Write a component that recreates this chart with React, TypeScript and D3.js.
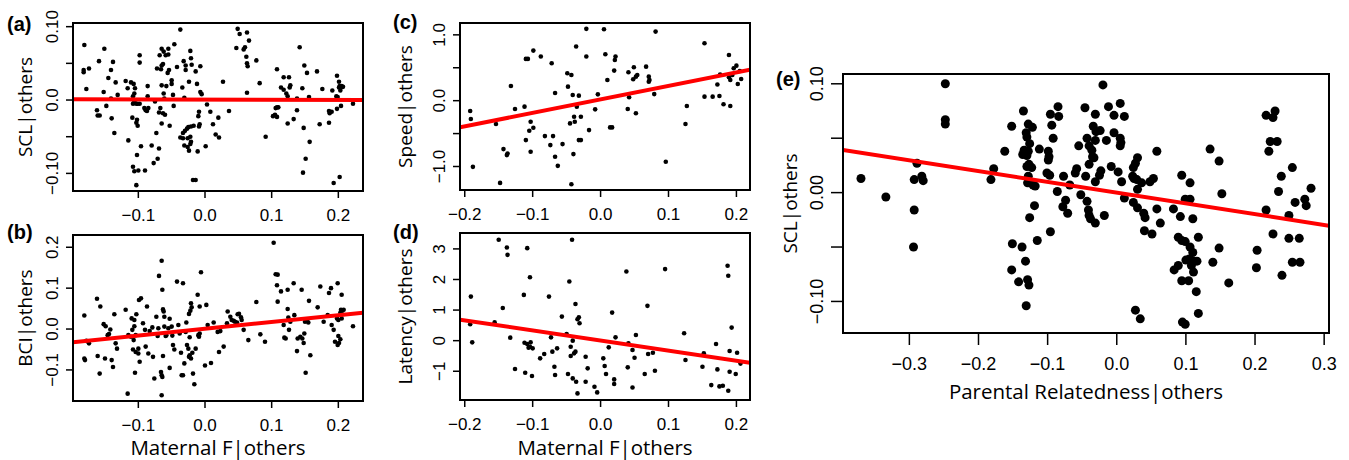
import React from "react";
import * as d3 from "d3";

// (a) SCL|others vs Maternal F|others
const pointsA = [
  [-0.181, 0.075], [-0.182, 0.041], [-0.182, 0.038], [-0.174, 0.043], [-0.178, 0.015], [-0.159, 0.053],
  [-0.162, -0.014], [-0.161, -0.021], [-0.158, -0.021], [-0.151, 0.07], [-0.152, 0.011], [-0.148, -0.008],
  [-0.145, 0.03], [-0.141, 0.041], [-0.138, 0.052], [-0.141, 0.002], [-0.14, -0.025], [-0.136, -0.045],
  [-0.134, 0.024], [-0.131, 0.007], [-0.119, 0.026], [-0.116, 0.016], [-0.115, -0.055], [-0.111, 0.024],
  [-0.107, 0.022], [-0.105, 0.016], [-0.106, 0.009], [-0.108, 0.005], [-0.107, 0.0], [-0.105, -0.004],
  [-0.108, -0.005], [-0.103, -0.005], [-0.101, -0.005], [-0.098, -0.005], [-0.109, -0.024], [-0.102, -0.027],
  [-0.101, -0.035], [-0.103, -0.031], [-0.098, 0.061], [-0.098, 0.051], [-0.102, -0.075], [-0.096, -0.063],
  [-0.108, -0.091], [-0.106, -0.097], [-0.1, -0.096], [-0.103, -0.116], [-0.09, -0.096], [-0.086, 0.019],
  [-0.086, 0.005], [-0.091, -0.011], [-0.089, -0.014], [-0.087, -0.015], [-0.085, -0.011], [-0.08, -0.062],
  [-0.077, -0.086], [-0.075, -0.002], [-0.073, -0.045], [-0.071, -0.08], [-0.069, -0.066], [-0.072, 0.043],
  [-0.066, 0.042], [-0.069, -0.017], [-0.067, -0.011], [-0.068, 0.061], [-0.065, 0.07], [-0.065, 0.047],
  [-0.063, 0.049], [-0.065, 0.02], [-0.062, 0.009], [-0.061, 0.002], [-0.063, -0.018], [-0.06, -0.02],
  [-0.065, -0.032], [-0.062, 0.066], [-0.059, 0.061], [-0.055, 0.07], [-0.054, 0.041], [-0.056, 0.037],
  [-0.058, 0.019], [-0.053, -0.035], [-0.05, 0.027], [-0.05, 0.022], [-0.055, 0.062], [-0.048, 0.007],
  [-0.047, -0.008], [-0.046, 0.076], [-0.042, 0.045], [-0.037, 0.096], [-0.037, -0.051], [-0.033, -0.052],
  [-0.032, 0.053], [-0.029, 0.047], [-0.029, 0.041], [-0.031, 0.003], [-0.034, 0.017], [-0.031, -0.062],
  [-0.026, -0.064], [-0.033, -0.045], [-0.03, -0.042], [-0.027, -0.039], [-0.025, -0.037], [-0.021, -0.036],
  [-0.017, -0.035], [-0.026, -0.052], [-0.022, -0.05], [-0.021, -0.057], [-0.022, -0.06], [-0.024, -0.069],
  [-0.024, 0.025], [-0.022, 0.067], [-0.021, 0.057], [-0.02, 0.048], [-0.018, -0.109], [-0.014, -0.109],
  [-0.014, 0.039], [-0.012, 0.022], [-0.011, -0.07], [-0.01, -0.022], [-0.008, -0.033], [-0.009, -0.036],
  [-0.007, 0.046], [-0.007, 0.011], [-0.009, -0.016], [-0.005, 0.008], [0.001, -0.063], [0.003, -0.006],
  [0.008, -0.016], [0.012, -0.033], [0.016, -0.047], [0.021, -0.051], [0.02, -0.024], [0.027, 0.025],
  [0.036, -0.015], [0.047, 0.071], [0.049, 0.097], [0.052, 0.09], [0.058, 0.069], [0.06, 0.072],
  [0.063, 0.092], [0.066, 0.081], [0.062, 0.059], [0.063, 0.05], [0.064, 0.046], [0.063, 0.01],
  [0.077, 0.054], [0.082, 0.023], [0.091, -0.05], [0.102, -0.022], [0.105, -0.02], [0.108, -0.023],
  [0.108, 0.042], [0.108, -0.01], [0.106, -0.011], [0.11, -0.01], [0.114, 0.017], [0.118, 0.031],
  [0.118, 0.014], [0.122, 0.009], [0.124, 0.005], [0.127, 0.017], [0.128, 0.02], [0.126, 0.031],
  [0.124, -0.032], [0.133, -0.026], [0.138, 0.002], [0.138, -0.014], [0.142, 0.072], [0.146, 0.016],
  [0.148, -0.038], [0.149, 0.047], [0.153, 0.037], [0.147, -0.099], [0.151, -0.08], [0.156, 0.004],
  [0.157, -0.057], [0.168, 0.039], [0.172, -0.033], [0.176, 0.015], [0.186, -0.031], [0.187, -0.018],
  [0.19, -0.016], [0.186, -0.015], [0.191, 0.013], [0.193, -0.113], [0.198, 0.033], [0.197, 0.005],
  [0.199, 0.004], [0.198, -0.012], [0.201, 0.025], [0.202, 0.019], [0.201, 0.017], [0.204, 0.017],
  [0.205, 0.019], [0.207, 0.018], [0.203, 0.013], [0.204, -0.008], [0.202, -0.105], [0.222, -0.005],
];

// (b) BCI|others vs Maternal F|others
const pointsB = [
  [-0.181, 0.033], [-0.181, -0.072], [-0.18, -0.076], [-0.178, -0.029], [-0.174, -0.035], [-0.162, 0.074],
  [-0.157, 0.055], [-0.161, -0.066], [-0.158, -0.109], [-0.152, 0.012], [-0.149, 0.007], [-0.15, -0.072],
  [-0.146, -0.015], [-0.144, -0.012], [-0.142, -0.001], [-0.14, -0.076], [-0.138, -0.093], [-0.136, 0.036],
  [-0.134, -0.035], [-0.132, -0.048], [-0.119, 0.047], [-0.116, -0.158], [-0.115, -0.015], [-0.111, -0.019],
  [-0.11, 0.026], [-0.106, 0.022], [-0.103, 0.036], [-0.106, 0.007], [-0.109, -0.002], [-0.104, -0.015],
  [-0.107, -0.027], [-0.108, -0.05], [-0.104, -0.056], [-0.105, -0.107], [-0.1, -0.048], [-0.1, -0.06],
  [-0.099, 0.071], [-0.096, 0.075], [-0.098, -0.08], [-0.093, 0.014], [-0.09, -0.002], [-0.089, -0.043],
  [-0.087, 0.055], [-0.085, -0.06], [-0.083, -0.005], [-0.079, 0.004], [-0.078, -0.068], [-0.076, -0.121],
  [-0.073, 0.03], [-0.071, -0.017], [-0.07, 0.002], [-0.069, 0.13], [-0.066, -0.105], [-0.065, -0.113],
  [-0.064, -0.117], [-0.065, 0.167], [-0.064, 0.096], [-0.063, 0.048], [-0.062, 0.043], [-0.061, 0.03],
  [-0.063, -0.066], [-0.065, -0.162], [-0.061, 0.006], [-0.059, -0.017], [-0.058, -0.015], [-0.055, 0.002],
  [-0.053, 0.025], [-0.053, -0.095], [-0.05, 0.006], [-0.049, -0.016], [-0.048, -0.039], [-0.046, -0.05],
  [-0.042, 0.116], [-0.04, 0.01], [-0.038, -0.011], [-0.036, -0.058], [-0.035, -0.113], [-0.033, -0.113],
  [-0.033, 0.112], [-0.031, -0.084], [-0.029, -0.007], [-0.028, 0.016], [-0.027, -0.039], [-0.025, -0.048],
  [-0.023, -0.064], [-0.024, -0.068], [-0.021, -0.072], [-0.024, 0.037], [-0.022, 0.045], [-0.021, 0.063],
  [-0.02, 0.053], [-0.023, -0.02], [-0.018, -0.109], [-0.016, -0.135], [-0.019, -0.058], [-0.014, -0.048],
  [-0.011, 0.084], [-0.01, -0.015], [-0.009, -0.019], [-0.008, -0.011], [-0.008, 0.055], [-0.006, 0.139],
  [0.0, -0.089], [0.002, 0.059], [0.004, 0.01], [0.009, -0.083], [0.013, 0.016], [0.019, -0.007],
  [0.021, -0.056], [0.023, -0.005], [0.028, -0.043], [0.033, 0.014], [0.034, 0.043], [0.038, 0.03],
  [0.04, 0.022], [0.043, 0.02], [0.045, 0.018], [0.048, 0.016], [0.049, 0.036], [0.051, 0.037],
  [0.054, 0.029], [0.055, 0.022], [0.058, -0.002], [0.065, -0.027], [0.077, 0.066], [0.083, -0.013],
  [0.09, -0.031], [0.103, 0.211], [0.106, 0.134], [0.109, 0.133], [0.108, 0.107], [0.109, 0.067],
  [0.114, 0.092], [0.118, 0.01], [0.119, -0.021], [0.121, -0.023], [0.124, 0.096], [0.124, 0.049],
  [0.125, 0.028], [0.128, 0.018], [0.126, -0.002], [0.133, 0.112], [0.134, 0.034], [0.138, -0.054],
  [0.139, -0.023], [0.143, -0.019], [0.145, 0.096], [0.146, -0.023], [0.148, -0.034], [0.149, -0.011],
  [0.15, 0.018], [0.153, 0.02], [0.155, 0.016], [0.151, -0.107], [0.156, 0.069], [0.158, -0.064],
  [0.169, 0.053], [0.173, 0.104], [0.178, 0.018], [0.184, 0.034], [0.186, 0.088], [0.189, 0.1],
  [0.19, 0.01], [0.193, -0.002], [0.195, -0.031], [0.199, 0.112], [0.198, 0.026], [0.2, 0.022],
  [0.203, 0.04], [0.204, 0.047], [0.205, 0.026], [0.206, 0.045], [0.208, 0.047], [0.2, -0.017],
  [0.201, -0.034], [0.203, -0.025], [0.199, -0.039], [0.205, 0.084], [0.222, 0.007],
];

// (c) Speed|others vs Maternal F|others
const pointsC = [
  [-0.192, -0.157], [-0.191, -0.279], [-0.188, -1.005], [-0.154, -0.355], [-0.148, -1.249], [-0.143, -0.736],
  [-0.138, -0.827], [-0.137, -0.802], [-0.132, 0.223], [-0.126, -0.127], [-0.112, -0.091], [-0.11, -0.599],
  [-0.11, 0.635], [-0.107, 0.635], [-0.105, -0.457], [-0.103, -0.32], [-0.103, -0.777], [-0.099, -0.411],
  [-0.099, 0.761], [-0.088, 0.67], [-0.082, -0.538], [-0.074, -0.675], [-0.072, 0.569], [-0.07, -0.538],
  [-0.067, 0.117], [-0.067, -0.853], [-0.063, -0.99], [-0.056, -0.66], [-0.049, 0.416], [-0.048, 0.213],
  [-0.045, -0.345], [-0.043, 0.391], [-0.043, -1.269], [-0.041, 0.086], [-0.04, -0.812], [-0.039, -0.244],
  [-0.038, -0.32], [-0.036, 0.822], [-0.035, -0.091], [-0.032, 0.076], [-0.032, -0.599], [-0.029, -0.599],
  [-0.029, -0.244], [-0.021, 1.091], [-0.021, 0.67], [-0.017, -0.447], [-0.008, -0.132], [-0.004, 0.096],
  [0.005, 1.086], [0.007, 0.706], [0.01, 0.315], [0.014, -0.406], [0.017, -0.406], [0.02, 0.457],
  [0.021, 0.619], [0.022, 0.67], [0.041, 0.431], [0.04, -0.126], [0.042, 0.052], [0.049, 0.507],
  [0.048, 0.325], [0.052, 0.365], [0.054, 0.39], [0.052, -0.192], [0.067, 0.517], [0.071, 0.365],
  [0.072, 0.315], [0.071, 0.289], [0.079, 0.1], [0.081, 1.049], [0.096, -0.927], [0.125, -0.354],
  [0.127, -0.08], [0.153, 0.872], [0.153, 0.061], [0.165, 0.061], [0.175, 0.071], [0.172, 0.245],
  [0.176, 0.398], [0.181, -0.055], [0.189, 0.695], [0.191, -0.081], [0.189, 0.355], [0.191, 0.315],
  [0.194, 0.39], [0.196, 0.492], [0.2, 0.532], [0.202, 0.254], [0.205, 0.45], [0.207, 0.33],
];

// (d) Latency|others vs Maternal F|others
const pointsD = [
  [-0.191, 1.441], [-0.192, 0.535], [-0.189, -0.055], [-0.156, 0.6], [-0.15, 3.297], [-0.144, 1.07],
  [-0.138, 3.046], [-0.137, 2.806], [-0.133, 0.098], [-0.126, -0.928], [-0.113, 1.496], [-0.112, -0.066],
  [-0.108, -0.109], [-0.106, -0.229], [-0.103, -0.055], [-0.104, -0.197], [-0.1, -0.251], [-0.111, -1.048],
  [-0.108, 3.024], [-0.104, 2.074], [-0.101, -1.157], [-0.089, -0.579], [-0.083, -0.437], [-0.076, 1.441],
  [-0.073, 0.109], [-0.071, -0.36], [-0.068, -0.852], [-0.067, -1.124], [-0.064, -0.251], [-0.057, 0.786],
  [-0.05, 0.218], [-0.048, -1.092], [-0.046, 1.932], [-0.044, -0.197], [-0.044, -0.502], [-0.039, -0.415],
  [-0.037, -0.36], [-0.042, 3.297], [-0.041, 0.0], [-0.041, -1.234], [-0.037, 1.201], [-0.036, -1.343],
  [-0.034, 0.699], [-0.032, 0.764], [-0.031, 0.568], [-0.034, -1.725], [-0.022, -0.524], [-0.019, -0.906],
  [-0.022, -1.343], [-0.009, -1.507], [-0.005, -1.692], [0.004, -0.579], [0.006, -0.83], [0.008, -1.092],
  [0.012, -0.218], [0.017, 0.917], [0.02, -1.266], [0.02, -1.419], [0.022, 0.109], [0.038, 2.262],
  [0.041, -0.086], [0.04, -0.872], [0.047, -0.305], [0.05, -0.557], [0.047, -1.529], [0.052, 0.187],
  [0.065, -1.092], [0.069, 1.138], [0.07, -0.436], [0.077, -0.393], [0.08, -0.983], [0.095, 2.34],
  [0.123, 0.241], [0.125, -0.633], [0.15, -0.852], [0.152, -0.414], [0.163, -1.453], [0.17, -0.108],
  [0.172, -0.939], [0.175, -1.496], [0.18, -1.474], [0.187, 2.449], [0.188, 2.12], [0.188, -1.639],
  [0.19, -0.338], [0.193, 0.427], [0.201, -0.393], [0.19, -1.016], [0.199, -1.092], [0.206, -0.75],
];

// (e) SCL|others vs Parental Relatedness|others
const pointsE = [
  [-0.37, 0.013], [-0.334, -0.004], [-0.289, 0.027], [-0.293, 0.012], [-0.282, 0.015], [-0.28, 0.011],
  [-0.293, -0.016], [-0.294, -0.05], [-0.248, 0.1], [-0.248, 0.067], [-0.248, 0.063], [-0.182, 0.012],
  [-0.178, 0.022], [-0.162, 0.038], [-0.152, 0.061], [-0.151, -0.047], [-0.152, -0.071], [-0.142, -0.082],
  [-0.137, -0.05], [-0.135, 0.075], [-0.136, 0.035], [-0.134, 0.039], [-0.13, 0.034], [-0.128, 0.038],
  [-0.131, 0.055], [-0.13, 0.051], [-0.128, 0.063], [-0.122, 0.06], [-0.126, 0.045], [-0.127, 0.026],
  [-0.123, 0.023], [-0.13, 0.024], [-0.128, 0.015], [-0.126, 0.009], [-0.129, 0.009], [-0.121, 0.007],
  [-0.118, 0.006], [-0.119, -0.012], [-0.126, -0.023], [-0.132, -0.063], [-0.129, -0.08], [-0.127, -0.085],
  [-0.131, -0.104], [-0.115, -0.044], [-0.112, 0.04], [-0.099, 0.038], [-0.098, 0.033], [-0.099, 0.03],
  [-0.096, 0.072], [-0.094, 0.062], [-0.092, 0.05], [-0.085, 0.079], [-0.084, 0.07], [-0.101, 0.018],
  [-0.097, 0.016], [-0.096, -0.036], [-0.086, 0.001], [-0.077, 0.015], [-0.078, -0.013], [-0.074, -0.007],
  [-0.071, -0.019], [-0.068, 0.007], [-0.06, 0.018], [-0.058, 0.022], [-0.055, 0.043], [-0.052, -0.002],
  [-0.045, 0.015], [-0.043, -0.008], [-0.041, -0.016], [-0.04, -0.021], [-0.038, -0.024], [-0.031, -0.028],
  [-0.046, 0.078], [-0.043, 0.05], [-0.04, 0.043], [-0.036, 0.039], [-0.035, 0.033], [-0.033, 0.032],
  [-0.04, 0.026], [-0.034, 0.061], [-0.03, 0.056], [-0.031, 0.048], [-0.024, 0.057], [-0.031, 0.072],
  [-0.031, 0.01], [-0.025, 0.016], [-0.023, 0.02], [-0.02, 0.099], [-0.018, -0.021], [-0.015, 0.048],
  [-0.012, 0.079], [-0.004, 0.071], [0.005, 0.082], [0.011, 0.07], [-0.004, 0.055], [0.005, 0.05],
  [0.006, 0.046], [0.005, 0.043], [-0.008, 0.024], [0.002, 0.019], [0.007, 0.01], [0.011, -0.005],
  [0.024, 0.023], [0.027, 0.027], [0.03, 0.032], [0.023, 0.015], [0.025, 0.013], [0.029, 0.012],
  [0.03, 0.003], [0.024, -0.009], [0.03, -0.014], [0.039, -0.019], [0.041, -0.023], [0.04, -0.035],
  [0.051, -0.038], [0.036, 0.009], [0.048, 0.01], [0.053, 0.013], [0.058, 0.038], [0.058, -0.015],
  [0.063, -0.028], [0.027, -0.108], [0.034, -0.116], [0.082, -0.015], [0.092, -0.022], [0.094, 0.016],
  [0.106, 0.009], [0.099, -0.006], [0.106, -0.006], [0.11, -0.024], [0.089, -0.041], [0.094, -0.044],
  [0.099, -0.045], [0.106, -0.05], [0.11, -0.055], [0.118, -0.041], [0.083, -0.071], [0.089, -0.067],
  [0.1, -0.062], [0.105, -0.061], [0.111, -0.063], [0.116, -0.063], [0.108, -0.067], [0.111, -0.073],
  [0.094, -0.081], [0.104, -0.081], [0.115, -0.091], [0.118, -0.111], [0.095, -0.119], [0.099, -0.121],
  [0.135, 0.04], [0.148, 0.029], [0.152, -0.001], [0.148, -0.051], [0.139, -0.064], [0.162, -0.083],
  [0.202, -0.069], [0.203, -0.053], [0.216, -0.016], [0.216, 0.071], [0.226, 0.069], [0.229, 0.075],
  [0.22, 0.038], [0.222, 0.047], [0.232, 0.047], [0.226, -0.038], [0.234, 0.001], [0.238, 0.015],
  [0.239, -0.076], [0.249, -0.021], [0.254, 0.023], [0.249, -0.042], [0.264, -0.042], [0.254, -0.064],
  [0.265, -0.064], [0.258, -0.009], [0.272, -0.006], [0.274, -0.012], [0.281, 0.004],
];

// fitted lines: [intercept, slope]
const fitA = [0.0005, -0.002];
const fitB = [0.0005, 0.167];
const fitC = [0.02, 2.05];
const fitD = [0.005, -3.3];
const fitE = [0.0, -0.099];

const ticksMatF = [-0.1, 0.0, 0.1, 0.2];
const ticksMatFLabels = ["\u22120.1", "0.0", "0.1", "0.2"];
const ticksMatF2 = [-0.2, -0.1, 0.0, 0.1, 0.2];
const ticksMatF2Labels = ["\u22120.2", "\u22120.1", "0.0", "0.1", "0.2"];
const ticksRel = [-0.3, -0.2, -0.1, 0.0, 0.1, 0.2, 0.3];
const ticksRelLabels = ["\u22120.3", "\u22120.2", "\u22120.1", "0.0", "0.1", "0.2", "0.3"];

const ticksSCL = [-0.1, -0.05, 0, 0.05, 0.1];
const ticksSCLLabelsA = ["\u22120.10", "", "0.0", "", "0.10"];
const ticksSCLLabelsE = ["\u22120.10", "", "0.00", "", "0.10"];
const ticksBCI = [-0.1, 0, 0.1, 0.2];
const ticksBCILabels = ["\u22120.1", "0.0", "0.1", "0.2"];
const ticksSpeed = [-1, -0.5, 0, 0.5, 1];
const ticksSpeedLabels = ["\u22121.0", "", "0.0", "", "1.0"];
const ticksLat = [-1, 0, 1, 2, 3];
const ticksLatLabels = ["\u22121", "0", "1", "2", "3"];

const TICK_FONT = "'Liberation Sans', Arial, Helvetica, sans-serif";
const TITLE_FONT = "'Open Sans', sans-serif";

type PanelProps = {
  box: [number, number, number, number]; // left, right, top, bottom
  xDomain: [number, number];
  yDomain: [number, number];
  xTicks: number[];
  xTickLabels: string[];
  yTicks: number[];
  yTickLabels: string[];
  points: number[][];
  fit: number[];
  r: number;
  tag: string;
  tagPos: [number, number];
  ylab: string;
  ylabX: number;
  xlab?: string;
  xlabY?: number;
  tickLen: number;
  tickFont: number;
  titleFont: number;
  xlabFont?: number;
  tickGap: number;
  xLabGap: number;
};

function Panel(p: PanelProps) {
  const [l, rgt, t, b] = p.box;
  const x = d3.scaleLinear().domain(p.xDomain).range([l, rgt]);
  const y = d3.scaleLinear().domain(p.yDomain).range([b, t]);
  const clipId = "clip" + p.tag.replace(/\W/g, "");
  const line = d3.line<number>().x((v) => x(v)).y((v) => y(p.fit[0] + p.fit[1] * v));
  return (
    <g>
      <defs>
        <clipPath id={clipId}>
          <rect x={l} y={t} width={rgt - l} height={b - t} />
        </clipPath>
      </defs>
      <g clipPath={`url(#${clipId})`}>
        {p.points.map((d, i) => (
          <circle key={i} cx={x(d[0])} cy={y(d[1])} r={p.r} fill="#000" />
        ))}
        <path d={line(p.xDomain) || ""} stroke="#ff0000" strokeWidth={4} fill="none" />
      </g>
      <rect x={l} y={t} width={rgt - l} height={b - t} fill="none" stroke="#000" strokeWidth={2} />
      {p.xTicks.map((v, i) => (
        <g key={"x" + i}>
          <line x1={x(v)} x2={x(v)} y1={b} y2={b + p.tickLen} stroke="#000" strokeWidth={1.5} />
          <text x={x(v)} y={b + p.tickGap} textAnchor="middle" fontFamily={TICK_FONT} fontSize={p.tickFont}>
            {p.xTickLabels[i]}
          </text>
        </g>
      ))}
      {p.yTicks.map((v, i) => (
        <g key={"y" + i}>
          <line x1={l - p.tickLen} x2={l} y1={y(v)} y2={y(v)} stroke="#000" strokeWidth={1.5} />
          {p.yTickLabels[i] ? (
            <text
              transform={`translate(${l - p.xLabGap},${y(v)}) rotate(-90)`}
              textAnchor="middle"
              fontFamily={TICK_FONT}
              fontSize={p.tickFont}
            >
              {p.yTickLabels[i]}
            </text>
          ) : null}
        </g>
      ))}
      <text
        transform={`translate(${p.ylabX},${(t + b) / 2}) rotate(-90)`}
        textAnchor="middle"
        dominantBaseline="central"
        fontFamily={TITLE_FONT}
        fontSize={p.titleFont}
      >
        {p.ylab}
      </text>
      {p.xlab ? (
        <text
          x={(l + rgt) / 2}
          y={p.xlabY}
          textAnchor="middle"
          fontFamily={TITLE_FONT}
          fontSize={p.xlabFont || p.titleFont}
        >
          {p.xlab}
        </text>
      ) : null}
      <text x={p.tagPos[0]} y={p.tagPos[1]} fontFamily={TICK_FONT} fontWeight="bold" fontSize={20}>
        {p.tag}
      </text>
    </g>
  );
}

export default function App() {
  const small = { r: 2.3, tickLen: 7, tickFont: 17, titleFont: 19, xlabFont: 20.5, tickGap: 30, xLabGap: 15 };
  return (
    <svg
      width={1349}
      height={460}
      style={{ position: "absolute", left: 0, top: 0, background: "#fff" }}
    >
      <Panel
        {...small}
        box={[73, 363, 23, 191]}
        xDomain={[-0.198, 0.237]}
        yDomain={[-0.124, 0.105]}
        xTicks={ticksMatF}
        xTickLabels={ticksMatFLabels}
        yTicks={ticksSCL}
        yTickLabels={ticksSCLLabelsA}
        points={pointsA}
        fit={fitA}
        tag="(a)"
        tagPos={[7, 31]}
        ylab="SCL|others"
        ylabX={25}
      />
      <Panel
        {...small}
        box={[73, 363, 235, 401]}
        xDomain={[-0.198, 0.237]}
        yDomain={[-0.176, 0.23]}
        xTicks={ticksMatF}
        xTickLabels={ticksMatFLabels}
        yTicks={ticksBCI}
        yTickLabels={ticksBCILabels}
        points={pointsB}
        fit={fitB}
        tag="(b)"
        tagPos={[7, 239]}
        ylab="BCI|others"
        ylabX={25}
        xlab="Maternal F|others"
        xlabY={455}
      />
      <Panel
        {...small}
        box={[460, 750, 23, 190]}
        xDomain={[-0.207, 0.22]}
        yDomain={[-1.357, 1.18]}
        xTicks={ticksMatF2}
        xTickLabels={ticksMatF2Labels}
        yTicks={ticksSpeed}
        yTickLabels={ticksSpeedLabels}
        points={pointsC}
        fit={fitC}
        tag="(c)"
        tagPos={[393, 29]}
        ylab="Speed|others"
        ylabX={405}
      />
      <Panel
        {...small}
        box={[460, 750, 233, 400]}
        xDomain={[-0.207, 0.22]}
        yDomain={[-1.94, 3.52]}
        xTicks={ticksMatF2}
        xTickLabels={ticksMatF2Labels}
        yTicks={ticksLat}
        yTickLabels={ticksLatLabels}
        points={pointsD}
        fit={fitD}
        tag="(d)"
        tagPos={[393, 239]}
        ylab="Latency|others"
        ylabX={405}
        xlab="Maternal F|others"
        xlabY={455}
      />
      <Panel
        box={[843, 1329, 74, 333]}
        xDomain={[-0.396, 0.307]}
        yDomain={[-0.129, 0.109]}
        xTicks={ticksRel}
        xTickLabels={ticksRelLabels}
        yTicks={ticksSCL}
        yTickLabels={ticksSCLLabelsE}
        points={pointsE}
        fit={fitE}
        r={4.5}
        tickLen={12}
        tickFont={18}
        titleFont={19}
        xlabFont={20.5}
        tickGap={37}
        xLabGap={20}
        tag="(e)"
        tagPos={[776, 86]}
        ylab="SCL|others"
        ylabX={790}
        xlab="Parental Relatedness|others"
        xlabY={399}
      />
    </svg>
  );
}
